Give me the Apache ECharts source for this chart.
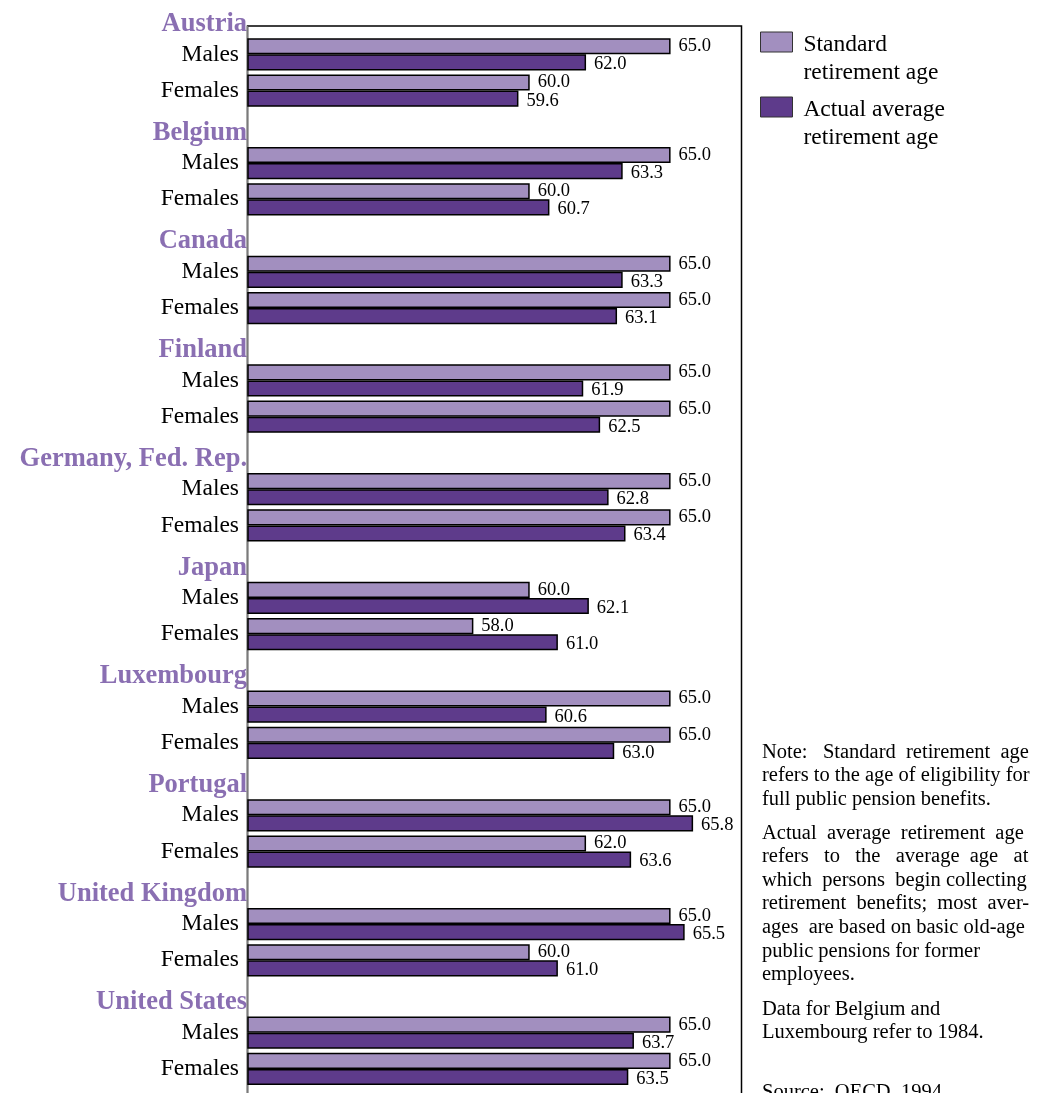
<!DOCTYPE html>
<html>
<head>
<meta charset="utf-8">
<script src="https://cdn.jsdelivr.net/npm/echarts@6/dist/echarts.min.js"></script>
<style>
  html, body { margin: 0; padding: 0; background: #fff; }
  #chart { width: 1044px; height: 1093px; }
</style>
</head>
<body>
<div id="chart"></div>
<script>
// Standard vs. actual average retirement age, by country and sex
const countries = ['Austria', 'Belgium', 'Canada', 'Finland', 'Germany, Fed. Rep.',
  'Japan', 'Luxembourg', 'Portugal', 'United Kingdom', 'United States'];
const sexes = ['Males', 'Females'];
const standardMales   = [65.0, 65.0, 65.0, 65.0, 65.0, 60.0, 65.0, 65.0, 65.0, 65.0];
const actualMales     = [62.0, 63.3, 63.3, 61.9, 62.8, 62.1, 60.6, 65.8, 65.5, 63.7];
const standardFemales = [60.0, 60.0, 65.0, 65.0, 65.0, 58.0, 65.0, 62.0, 60.0, 65.0];
const actualFemales   = [59.6, 60.7, 63.1, 62.5, 63.4, 61.0, 63.0, 63.6, 61.0, 63.5];
const seriesNames = ['Standard\nretirement age', 'Actual average\nretirement age'];

// Note text; extra spaces spread the fuller lines across the column width
const noteParagraphs = [
  'Note:   Standard  retirement  age\nrefers to the age of eligibility for\nfull public pension benefits.',
  'Actual  average  retirement  age\nrefers   to   the   average  age   at\nwhich  persons  begin collecting\nretirement  benefits;  most  aver-\nages  are based on basic old-age\npublic pensions for former\nemployees.',
  'Data for Belgium and\nLuxembourg refer to 1984.',
  'Source:  OECD, 1994.'
];

// One heading row per country, followed by a Males row and a Females row
const rowKeys = [];
const standardRows = [];
const actualRows = [];
countries.forEach((c, i) => {
  rowKeys.push('H|' + c);
  standardRows.push('-');
  actualRows.push('-');
  rowKeys.push('S|' + sexes[0]);
  standardRows.push(standardMales[i]);
  actualRows.push(actualMales[i]);
  rowKeys.push('S|' + sexes[1]);
  standardRows.push(standardFemales[i]);
  actualRows.push(actualFemales[i]);
});

const serif = '"Liberation Serif", "Times New Roman", serif';
const lightPurple = '#a28fbf';
const darkPurple = '#5e3b8b';
const headingPurple = '#8a6fb2';

const chart = echarts.init(document.getElementById('chart'), null, { renderer: 'canvas' });

const valueLabel = (dy) => ({
  show: true,
  position: 'right',
  distance: 8,
  offset: [0, dy],
  fontFamily: serif,
  fontSize: 18.5,
  color: '#000',
  formatter: (p) => Number(p.value).toFixed(1)
});

// Legend text: a blank first line keeps the icon level with the first text line,
// and a leading space widens the gap between icon and text.
const legendFormatter = (name) =>
  '{b| }\n' + name.split('\n').map((l) => '{t| ' + l + '}').join('\n');
const legendBase = {
  left: 760,
  padding: 0,
  orient: 'vertical',
  icon: 'rect',
  itemWidth: 32,
  itemHeight: 20,
  itemStyle: { borderColor: '#333', borderWidth: 1 },
  formatter: legendFormatter,
  textStyle: {
    color: '#000',
    rich: {
      b: { fontSize: 10, lineHeight: 34 },
      t: { fontFamily: serif, fontSize: 23.5, lineHeight: 28, color: '#000' }
    }
  },
  selectedMode: false
};

chart.setOption({
  animation: false,
  backgroundColor: '#fff',
  grid: {
    left: 248,
    right: 303,
    top: -2.5,
    bottom: 5.9,
    show: false
  },
  xAxis: {
    type: 'value',
    min: 50,
    max: 67.5,
    show: false
  },
  yAxis: {
    type: 'category',
    inverse: true,
    data: rowKeys,
    axisTick: { show: false },
    axisLine: { show: false },
    splitLine: { show: false },
    axisLabel: {
      margin: 1,
      interval: 0,
      formatter: (v) => {
        const [kind, text] = v.split('|');
        return kind === 'H' ? '{h|' + text + '}' : '{s|' + text + '}';
      },
      rich: {
        h: {
          fontFamily: serif,
          fontWeight: 'bold',
          fontSize: 26.5,
          color: headingPurple,
          padding: [12, 0, 0, 0]
        },
        s: {
          fontFamily: serif,
          fontSize: 23.5,
          color: '#000',
          padding: [0, 8, 0, 0]
        }
      }
    }
  },
  legend: [
    Object.assign({ data: [seriesNames[0]], top: 9 }, legendBase),
    Object.assign({ data: [seriesNames[1]], top: 74 }, legendBase)
  ],
  series: [
    {
      name: seriesNames[0],
      type: 'bar',
      data: standardRows,
      barGap: '0%',
      barCategoryGap: '11%',
      itemStyle: { color: lightPurple, borderColor: '#000', borderWidth: 1.5 },
      label: valueLabel(0)
    },
    {
      name: seriesNames[1],
      type: 'bar',
      data: actualRows,
      barGap: '0%',
      barCategoryGap: '11%',
      itemStyle: { color: darkPurple, borderColor: '#000', borderWidth: 1.5 },
      label: valueLabel(2)
    }
  ],
  graphic: [
    {
      type: 'rect',
      z: 0,
      shape: { x: 247.5, y: 26, width: 494, height: 1100 },
      style: { fill: null, stroke: '#000', lineWidth: 1.5 }
    },
    {
      type: 'line',
      z: 1,
      shape: { x1: 247.5, y1: 26, x2: 247.5, y2: 1100 },
      style: { stroke: '#7a7a7a', lineWidth: 1.5 }
    },
    ...noteParagraphs.map((t, i) => ({
      type: 'text',
      left: 762,
      top: [740.5, 821.5, 997.5, 1080.5][i],
      style: {
        text: t,
        fontFamily: serif,
        fontSize: 20.5,
        lineHeight: 23.6,
        fill: '#000'
      }
    }))
  ]
});
</script>
</body>
</html>
